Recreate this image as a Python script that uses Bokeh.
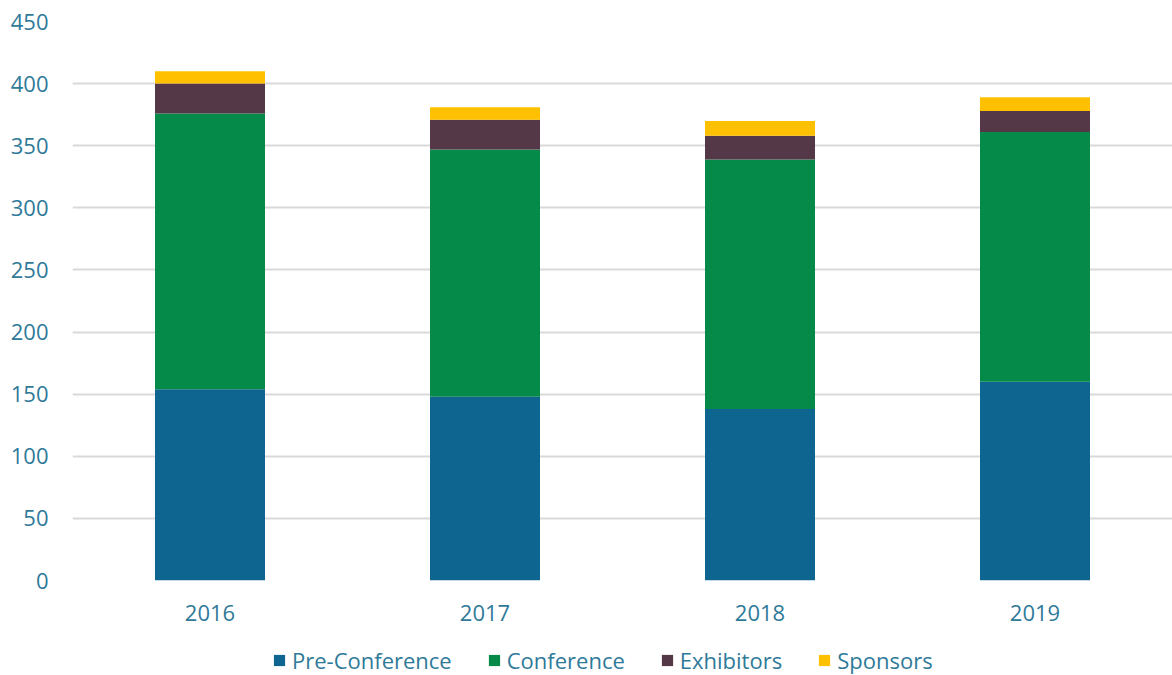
from bokeh.plotting import figure
from bokeh.layouts import column
from bokeh.models import ColumnDataSource, Range1d, FixedTicker, Legend, LegendItem
from bokeh.embed import file_html
from bokeh.resources import INLINE

years = ["2016", "2017", "2018", "2019"]
pre_conference = [154, 148, 138, 160]
conference = [222, 199, 201, 201]
exhibitors = [24, 24, 19, 17]
sponsors = [10, 10, 12, 11]
series_names = ["Pre-Conference", "Conference", "Exhibitors", "Sponsors"]
colors = ["#0E6590", "#058A4A", "#553847", "#FFC000"]
y_ticks = [0, 50, 100, 150, 200, 250, 300, 350, 400, 450]

TEXT = "#2F7A99"
FONT = "Open Sans"
stack_cols = ["pre", "conf", "exh", "spon"]

source = ColumnDataSource(dict(
    years=years,
    pre=pre_conference,
    conf=conference,
    exh=exhibitors,
    spon=sponsors,
))

# ---- main chart ----
p = figure(x_range=years, width=1172, height=632, output_backend="svg",
           toolbar_location=None, min_border_left=72, min_border_right=0,
           min_border_top=21, min_border_bottom=52)
p.y_range = Range1d(0, 450)
p.x_range.range_padding = 0

p.vbar_stack(stack_cols, x="years", width=0.4, color=colors, source=source, line_color=None)

p.outline_line_color = None
p.xgrid.grid_line_color = None
p.ygrid.grid_line_color = "#D9D9D9"
p.ygrid.grid_line_width = 2
p.yaxis.ticker = FixedTicker(ticks=y_ticks)

for ax in (p.xaxis[0], p.yaxis[0]):
    ax.axis_line_color = None
    ax.major_tick_line_color = None
    ax.minor_tick_line_color = None
    ax.major_tick_out = 0
    ax.major_tick_in = 0
    ax.major_label_text_font = FONT
    ax.major_label_text_font_size = "22px"
    ax.major_label_text_color = TEXT

p.yaxis.major_label_standoff = 24
p.xaxis.major_label_standoff = 24

# ---- legend strip (same series, drawn out of view) ----
lg = figure(x_range=years, width=1172, height=43, output_backend="svg",
            toolbar_location=None, min_border=0, x_axis_type=None, y_axis_type=None)
lg.y_range = Range1d(1000, 1001)
lg.outline_line_color = None
lg.grid.visible = False
lg_renderers = lg.vbar_stack(stack_cols, x="years", width=0.4, color=colors,
                             source=source, line_color=None)

legend = Legend(items=[LegendItem(label=n, renderers=[r]) for n, r in zip(series_names, lg_renderers)],
                orientation="horizontal", location=(200, 0),
                glyph_width=14, glyph_height=14, label_standoff=6, spacing=35,
                label_text_font=FONT, label_text_font_size="22px", label_text_color=TEXT,
                border_line_color=None, background_fill_alpha=0, padding=0, margin=0)
lg.add_layout(legend, "center")

layout = column(p, lg, spacing=0)
open("out.html", "w").write(file_html(layout, INLINE))
